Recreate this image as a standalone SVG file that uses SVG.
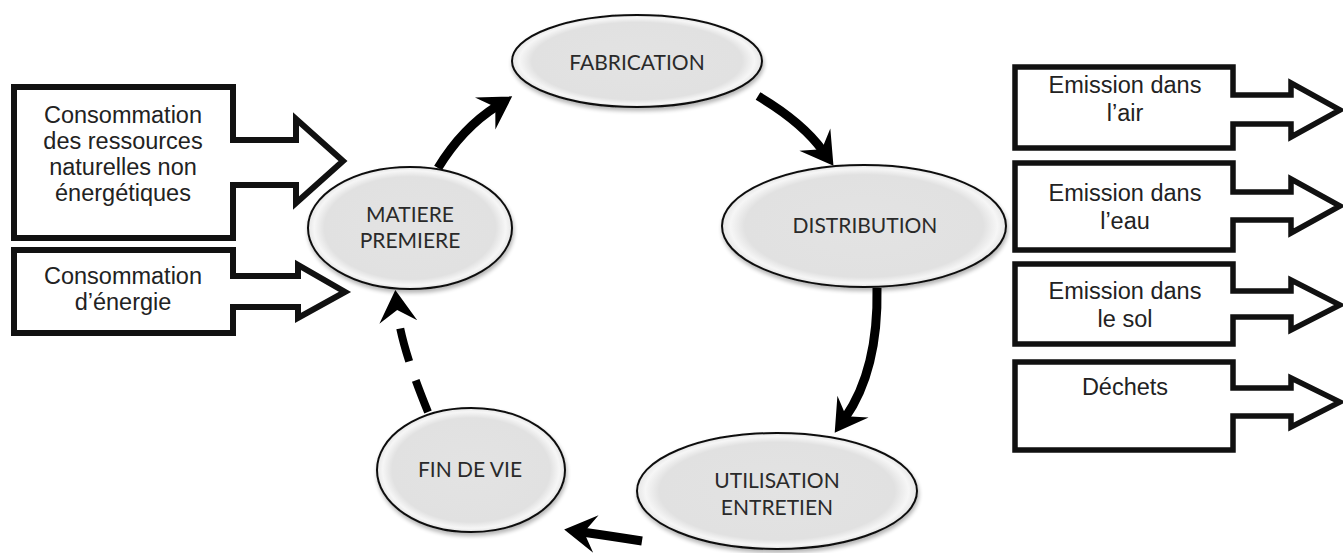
<svg xmlns="http://www.w3.org/2000/svg" width="1343" height="553" viewBox="0 0 1343 553">
  <defs>
    <style>
      .box { fill: #ffffff; stroke: #111111; stroke-width: 6; stroke-linejoin: miter; }
      .rbox { fill: #ffffff; stroke: #111111; stroke-width: 5.5; stroke-linejoin: miter; }
      .btxt { font-family: "Liberation Sans", Arial, sans-serif; font-size: 23.5px; fill: #222222; text-anchor: middle; }
      .etxt { font-family: Lato, "Open Sans", sans-serif; font-size: 21px; fill: #2a2a2a; text-anchor: middle; }
      .oval { fill: url(#ovalFill); stroke: #111111; stroke-width: 2; filter: url(#ovalShadow); }
      .flow { fill: none; stroke: #000000; stroke-width: 9; marker-end: url(#head); }
      .dash { fill: none; stroke: #000000; stroke-width: 8; stroke-dasharray: 34 20; marker-end: url(#head); }
    </style>
    <radialGradient id="ovalFill" cx="50%" cy="50%" r="50%">
      <stop offset="0" stop-color="#e3e3e3"/>
      <stop offset="0.84" stop-color="#e1e1e1"/>
      <stop offset="0.94" stop-color="#f6f6f6"/>
      <stop offset="1" stop-color="#e6e6e6"/>
    </radialGradient>
    <filter id="ovalShadow" x="-10%" y="-10%" width="125%" height="130%">
      <feGaussianBlur in="SourceAlpha" stdDeviation="2"/>
      <feOffset dx="1" dy="3" result="blur"/>
      <feComponentTransfer><feFuncA type="linear" slope="0.3"/></feComponentTransfer>
      <feMerge><feMergeNode/><feMergeNode in="SourceGraphic"/></feMerge>
    </filter>
    <!-- swept arrowhead; the path ends 18 units short of the tip -->
    <marker id="head" markerUnits="userSpaceOnUse" viewBox="-34 -20 38 40" markerWidth="38" markerHeight="40" refX="-18" refY="0" orient="auto" overflow="visible">
      <path d="M0,0 L-32,-19 L-20,0 L-32,19 Z" fill="#000000"/>
    </marker>
  </defs>

  <rect width="1343" height="553" fill="#ffffff"/>

  <!-- connectors between life-cycle stages -->
  <g id="connectors">
    <path class="flow" d="M438,168 C455,140 475,120 497,106"/>
    <path class="flow" d="M758,96 C785,112 808,130 823,151"/>
    <path class="flow" d="M877,288 C878,340 868,385 845,418"/>
    <path class="flow" d="M642,541 Q610,536 582,532"/>
    <path class="dash" d="M428,412 C415,380 400,340 397,308"/>
  </g>

  <!-- input boxes -->
  <g id="input-ressources">
    <path class="box" d="M14,87 H233 V140 H296 V119 L343,161 L296,203 V185 H233 V238 H14 Z"/>
    <text class="btxt" x="123" y="123">Consommation</text>
    <text class="btxt" x="123" y="149">des ressources</text>
    <text class="btxt" x="123" y="175">naturelles non</text>
    <text class="btxt" x="123" y="201">énergétiques</text>
  </g>
  <g id="input-energie">
    <path class="box" d="M14,250 H233 V276 H298 V265 L345,292 L298,318 V307 H233 V333 H14 Z"/>
    <text class="btxt" x="123" y="284">Consommation</text>
    <text class="btxt" x="123" y="310">d’énergie</text>
  </g>

  <!-- life-cycle stages -->
  <g id="fabrication">
    <ellipse class="oval" cx="637" cy="61" rx="125" ry="46"/>
    <text class="etxt" x="637" y="70">FABRICATION</text>
  </g>
  <g id="matiere-premiere">
    <ellipse class="oval" cx="410" cy="228" rx="102" ry="61"/>
    <text class="etxt" x="410" y="222">MATIERE</text>
    <text class="etxt" x="410" y="248">PREMIERE</text>
  </g>
  <g id="distribution">
    <ellipse class="oval" cx="864" cy="226" rx="142" ry="61"/>
    <text class="etxt" x="865" y="233">DISTRIBUTION</text>
  </g>
  <g id="utilisation-entretien">
    <ellipse class="oval" cx="777" cy="491" rx="140" ry="58"/>
    <text class="etxt" x="777" y="488">UTILISATION</text>
    <text class="etxt" x="777" y="515">ENTRETIEN</text>
  </g>
  <g id="fin-de-vie">
    <ellipse class="oval" cx="471" cy="470" rx="94" ry="62"/>
    <text class="etxt" x="470" y="477">FIN DE VIE</text>
  </g>

  <!-- output boxes -->
  <g id="emission-air">
    <path class="rbox" d="M1015,67 H1233 V95 H1291 V83 L1340,110 L1291,137 V124 H1233 V148 H1015 Z"/>
    <text class="btxt" x="1125" y="93">Emission dans</text>
    <text class="btxt" x="1125" y="121">l’air</text>
  </g>
  <g id="emission-eau">
    <path class="rbox" d="M1015,163 H1233 V192 H1291 V179 L1340,206 L1291,233 V220 H1233 V250 H1015 Z"/>
    <text class="btxt" x="1125" y="201">Emission dans</text>
    <text class="btxt" x="1125" y="229">l’eau</text>
  </g>
  <g id="emission-sol">
    <path class="rbox" d="M1015,264 H1233 V291 H1291 V280 L1340,305 L1291,330 V317 H1233 V344 H1015 Z"/>
    <text class="btxt" x="1125" y="299">Emission dans</text>
    <text class="btxt" x="1125" y="327">le sol</text>
  </g>
  <g id="dechets">
    <path class="rbox" d="M1015,362 H1233 V388 H1291 V378 L1340,402 L1291,427 V416 H1233 V450 H1015 Z"/>
    <text class="btxt" x="1125" y="395">Déchets</text>
  </g>
</svg>
